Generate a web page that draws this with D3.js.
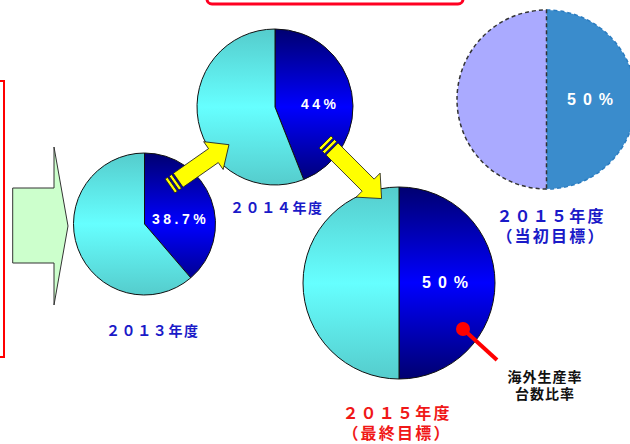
<!DOCTYPE html>
<html>
<head>
<meta charset="utf-8">
<script src="https://cdn.jsdelivr.net/npm/d3@7"></script>
<style>
  body { margin: 0; background: #fff; }
  svg { display: block; }
</style>
</head>
<body>
<div id="chart"></div>
<script>
// shares of overseas production (台数比率) per year
var years = ["２０１３年度", "２０１４年度", "２０１５年度", "２０１５年度"];
var subLabels = ["", "", "（最終目標）", "（当初目標）"];
var shares = [38.7, 44, 50, 50];
var shareLabels = ["38.7%", "44%", "50%", "50%"];
var noteLines = ["海外生産率", "台数比率"];

var width = 630, height = 444;

var svg = d3.select("#chart").append("svg")
    .attr("width", width)
    .attr("height", height);

var defs = svg.append("defs");

// layout of each pie (center + radius) and its labels
var pies = [
  {cx: 144.5, cy: 224, r: 71, lx: 106, ly: 336, fs: 14, color: "#1a1ac8", pct: {x: 152, y: 224, fs: 14, ls: 3.5}},
  {cx: 275, cy: 107, r: 78, lx: 230, ly: 213, fs: 14, color: "#1a1ac8", pct: {x: 301, y: 109, fs: 14, ls: 3.5}},
  {cx: 399, cy: 283, r: 96, lx: 397, ly: 419, fs: 16, color: "#f01818", pct: {x: 422, y: 288, fs: 16, ls: 7}, mid: true},
  {cx: 546.5, cy: 99.5, r: 89.5, lx: 551, ly: 222, fs: 16, color: "#1a1ac8", pct: {x: 567, y: 105, fs: 16, ls: 7}, mid: true, dashed: true}
];

var pie = d3.pie().sort(null).value(function(d) { return d; });

// background frames (partly off-canvas)
svg.append("rect")
    .attr("x", 207).attr("y", -40).attr("width", 256).attr("height", 44)
    .attr("rx", 5)
    .attr("fill", "#fff").attr("stroke", "#ff0022").attr("stroke-width", 3);

svg.append("rect")
    .attr("x", -20).attr("y", 81).attr("width", 24).attr("height", 276)
    .attr("fill", "none").attr("stroke", "#ff0000").attr("stroke-width", 2);

// big light green arrow on the left
svg.append("path")
    .attr("d", "M12.7,188 L54,188 L54,147 L68,226 L54,305 L54,263 L12.7,263 Z")
    .attr("fill", "#ccffcc").attr("stroke", "#333").attr("stroke-width", 1);

pies.forEach(function(p, i) {
  var arc = d3.arc().innerRadius(0).outerRadius(p.r);
  var arcs = pie([shares[i], 100 - shares[i]]);
  var g = svg.append("g").attr("transform", "translate(" + p.cx + "," + p.cy + ")");

  if (p.dashed) {
    g.append("path").attr("d", arc(arcs[0]))
        .attr("fill", "#3a8ccc").attr("stroke", "#2a7cc0")
        .attr("stroke-width", 1.5).attr("stroke-dasharray", "4,3");
    g.append("path").attr("d", arc(arcs[1]))
        .attr("fill", "#aaaaff").attr("stroke", "#333")
        .attr("stroke-width", 1.5).attr("stroke-dasharray", "4,3");
  } else {
    // vertical gradients: dark at top/bottom, bright in the middle
    var gd = defs.append("linearGradient").attr("id", "dark" + i)
        .attr("gradientUnits", "userSpaceOnUse")
        .attr("x1", 0).attr("y1", -p.r).attr("x2", 0).attr("y2", p.r);
    gd.append("stop").attr("offset", "0%").attr("stop-color", "#000070");
    gd.append("stop").attr("offset", "50%").attr("stop-color", "#0000ff");
    gd.append("stop").attr("offset", "100%").attr("stop-color", "#000070");
    var gl = defs.append("linearGradient").attr("id", "light" + i)
        .attr("gradientUnits", "userSpaceOnUse")
        .attr("x1", 0).attr("y1", -p.r).attr("x2", 0).attr("y2", p.r);
    gl.append("stop").attr("offset", "0%").attr("stop-color", "#55cccc");
    gl.append("stop").attr("offset", "50%").attr("stop-color", "#66ffff");
    gl.append("stop").attr("offset", "100%").attr("stop-color", "#55cccc");

    g.selectAll("path.slice").data(arcs).enter().append("path")
        .attr("class", "slice")
        .attr("d", arc)
        .attr("fill", function(d, j) { return j === 0 ? "url(#dark" + i + ")" : "url(#light" + i + ")"; })
        .attr("stroke", "#111").attr("stroke-width", 1);
  }
});

// yellow arrows between pies (drawn in local coords, then rotated)
function yellowArrow(x, y, angle, len) {
  var w = 8.5, hw = 17, hl = 19;
  var g = svg.append("g")
      .attr("transform", "translate(" + x + "," + y + ") rotate(" + angle + ")");
  g.append("path")
      .attr("d", "M10," + (-w) + " L" + (len - hl) + "," + (-w) + " L" + (len - hl) + "," + (-hw) +
                 " L" + len + ",0 L" + (len - hl) + "," + hw + " L" + (len - hl) + "," + w +
                 " L10," + w + " Z")
      .attr("fill", "#ffff00").attr("stroke", "#222").attr("stroke-width", 0.8);
  [0, 5].forEach(function(s) {
    g.append("rect")
        .attr("x", s).attr("y", -w).attr("width", 3).attr("height", 2 * w)
        .attr("fill", "#ffff00").attr("stroke", "#222").attr("stroke-width", 0.8);
  });
}
yellowArrow(170, 186, -35, 72);
yellowArrow(325, 142, 45, 80);

// percentage labels
pies.forEach(function(p, i) {
  svg.append("text")
      .attr("x", p.pct.x).attr("y", p.pct.y)
      .attr("fill", "#fff")
      .style("font", "bold " + p.pct.fs + "px 'Liberation Sans', Arial, sans-serif")
      .style("letter-spacing", p.pct.ls + "px")
      .text(shareLabels[i]);
});

// year labels (one text per line)
pies.forEach(function(p, i) {
  var lines = subLabels[i] ? [years[i], subLabels[i]] : [years[i]];
  lines.forEach(function(s, k) {
    svg.append("text")
        .attr("x", p.lx).attr("y", p.ly + k * 20)
        .attr("fill", p.color)
        .attr("text-anchor", p.mid ? "middle" : "start")
        .style("font", "bold " + p.fs + "px 'Noto Sans CJK JP', sans-serif")
        .style("letter-spacing", (p.fs === 16 ? 2.2 : 1.6) + "px")
        .text(s);
  });
});

// red pointer + note
svg.append("line")
    .attr("x1", 463).attr("y1", 329).attr("x2", 497).attr("y2", 360)
    .attr("stroke", "#ff0000").attr("stroke-width", 4);
svg.append("circle")
    .attr("cx", 463).attr("cy", 329).attr("r", 7)
    .attr("fill", "#ff0000");

noteLines.forEach(function(s, k) {
  svg.append("text")
      .attr("x", 545).attr("y", 382 + k * 17)
      .attr("text-anchor", "middle")
      .attr("fill", "#111")
      .style("font", "bold 14px 'Noto Sans CJK JP', sans-serif")
      .style("letter-spacing", "1px")
      .text(s);
});
</script>
</body>
</html>
